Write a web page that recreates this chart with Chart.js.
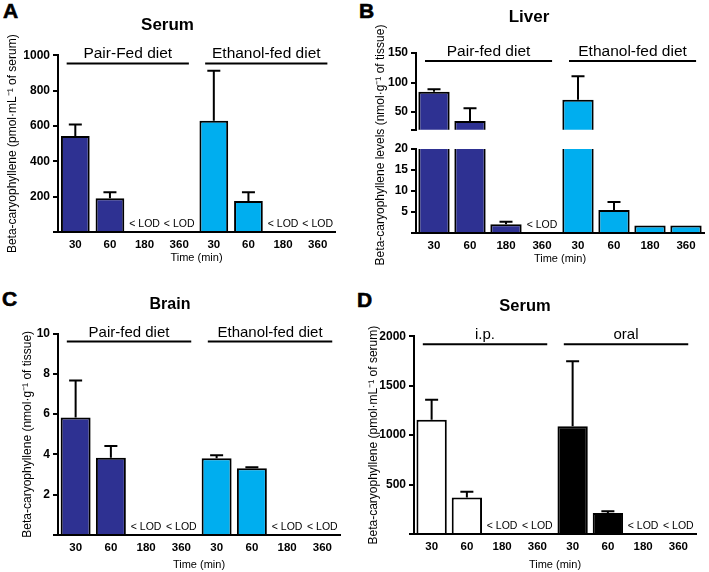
<!DOCTYPE html>
<html lang="en">
<head>
<meta charset="UTF-8">
<title>Beta-caryophyllene levels</title>
<script src="https://cdn.jsdelivr.net/npm/chart.js"></script>
<style>
  body { margin: 0; background: #fff; }
  #fig { position: relative; width: 709px; height: 572px; overflow: hidden;
         font-family: "Liberation Sans", Arial, sans-serif; }
  #fig canvas { position: absolute; }
  .letter { position: absolute; font-size: 21px; line-height: 20px; font-weight: bold;
            -webkit-text-stroke: 0.6px #000; }
</style>
</head>
<body>
<div id="fig">
  <div class="letter" style="left:3px;top:1px">A</div>
  <div class="letter" style="left:359px;top:1px">B</div>
  <div class="letter" style="left:2px;top:289px">C</div>
  <div class="letter" style="left:357px;top:290px">D</div>

  <canvas id="cA" width="354" height="290" style="left:0;top:0"></canvas>
  <canvas id="cBlow" width="355" height="290" style="left:354px;top:0"></canvas>
  <canvas id="cBhigh" width="355" height="140" style="left:354px;top:0"></canvas>
  <canvas id="cC" width="354" height="282" style="left:0;top:290px"></canvas>
  <canvas id="cD" width="355" height="282" style="left:354px;top:290px"></canvas>
</div>

<script>
// ---- data (mean, upper SD arm; null = below limit of detection) ----
const times = ['30', '60', '180', '360', '30', '60', '180', '360'];
const serumGroups = ['Pair-Fed diet', 'Ethanol-fed diet'];
const tissueGroups = ['Pair-fed diet', 'Ethanol-fed diet'];
const routeGroups = ['i.p.', 'oral'];

// A: serum, pmol/mL
const serumMean = [543, 191, null, null, 630, 176, null, null];
const serumSD   = [66, 34, null, null, 283, 49, null, null];
const serumTicks = [200, 400, 600, 800, 1000];

// B: liver, nmol/g (broken axis at 20)
const liverMean = [84.6, 34.7, 2.1, null, 70.8, 5.5, 1.8, 1.8];
const liverSD   = [4.1, 21.9, 0.6, null, 39.8, 1.9, 0, 0];
const liverTicksHigh = [50, 100, 150];
const liverTicksLow  = [5, 10, 15, 20];
const liverBreak = 20;

// C: brain, nmol/g
const brainMean = [5.83, 3.83, null, null, 3.81, 3.31, null, null];
const brainSD   = [1.84, 0.59, null, null, 0.15, 0.05, null, null];
const brainTicks = [2, 4, 6, 8, 10];

// D: serum by route, pmol/mL
const routeMean = [1157, 370, null, null, 1089, 212, null, null];
const routeSD   = [202, 58, null, null, 658, 17, null, null];
const routeTicks = [500, 1000, 1500, 2000];

// ---- styling ----
const FONT = '"Liberation Sans", Arial, sans-serif';
const NAVY = '#2e3192', CYAN = '#00aeef';
Chart.defaults.font.family = FONT;
Chart.defaults.color = '#000';
Chart.defaults.animation = false;

const dietColors = times.map((t, i) => i < times.length / 2 ? NAVY : CYAN);
const routeColors = times.map((t, i) => i < times.length / 2 ? '#fff' : '#000');

// extra drawing per canvas: error bars, group lines, < LOD, split y title
const extras = {};

const deco = {
  id: 'deco',
  afterDatasetsDraw(chart) {
    const e = extras[chart.canvas.id];
    if (!e) return;
    const {ctx, chartArea: a, scales: {x, y}} = chart;
    const step = x.getPixelForValue(1) - x.getPixelForValue(0);
    ctx.save();
    ctx.strokeStyle = '#000';
    ctx.fillStyle = '#000';
    ctx.lineWidth = 2;

    e.mean.forEach((m, i) => {
      const sd = e.sd[i];
      if (m == null || !sd || m < y.min || m > y.max) return;
      const cx = x.getPixelForValue(i);
      const y0 = y.getPixelForValue(m), y1 = y.getPixelForValue(m + sd);
      ctx.beginPath();
      ctx.moveTo(cx, y0); ctx.lineTo(cx, y1);
      ctx.moveTo(cx - 6.5, y1); ctx.lineTo(cx + 6.5, y1);
      ctx.stroke();
    });

    ctx.textAlign = 'center';
    ctx.textBaseline = 'alphabetic';
    if (e.lod) {
      ctx.font = '10.5px ' + FONT;
      e.mean.forEach((m, i) => {
        if (m == null) ctx.fillText('< LOD', x.getPixelForValue(i), a.bottom - 5);
      });
    }

    if (e.groups) {
      const n = times.length / e.groups.length;
      ctx.font = e.groupSize + 'px ' + FONT;
      e.groups.forEach((g, k) => {
        const x0 = x.getPixelForValue(k * n) - 0.25 * step;
        const x1 = x.getPixelForValue(k * n + n - 1) + 0.28 * step;
        const ly = a.top + 8;
        ctx.beginPath(); ctx.moveTo(x0, ly); ctx.lineTo(x1, ly); ctx.stroke();
        ctx.fillText(g, (x0 + x1) / 2, ly - 5);
      });
    }

    if (e.yTitle) {
      ctx.font = '12px ' + FONT;
      ctx.textBaseline = 'middle';
      ctx.translate(e.yTitle.x, e.yTitle.y);
      ctx.rotate(-Math.PI / 2);
      ctx.fillText(e.yTitle.text, 0, 0);
    }
    ctx.restore();
  }
};
Chart.register(deco);

function yAxis(ticks, min, width, title, titlePad) {
  return {
    min: min,
    max: ticks[ticks.length - 1],
    afterFit: s => { s.width = width; },
    border: { color: '#000', width: 2 },
    grid: { drawOnChartArea: false, tickLength: 5, lineWidth: 2, tickWidth: 2, tickColor: '#000' },
    ticks: {
      stepSize: ticks[1] - ticks[0],
      padding: 3,
      font: { size: 12, weight: 'bold' },
      callback: v => ticks.includes(v) ? v : ''
    },
    title: title ? { display: true, text: title, font: { size: 12 }, padding: { top: titlePad, bottom: 0 } }
                 : { display: false }
  };
}

function xAxis(height, titleBottom) {
  return {
    afterFit: s => { s.height = height; },
    border: { color: '#000', width: 2 },
    grid: { display: false, drawTicks: false },
    ticks: { padding: 6, maxRotation: 0, autoSkip: false, font: { size: 11.5, weight: 'bold' } },
    title: { display: true, text: 'Time (min)', font: { size: 11 }, padding: { top: 0, bottom: titleBottom } }
  };
}

function barChart(id, mean, colors, barPct, scales, title, padding) {
  return new Chart(document.getElementById(id), {
    type: 'bar',
    data: {
      labels: times,
      datasets: [{
        data: mean,
        backgroundColor: colors,
        borderColor: '#000',
        borderWidth: 2,
        barPercentage: barPct,
        categoryPercentage: 1
      }]
    },
    options: {
      responsive: false,
      layout: { padding: padding },
      plugins: {
        legend: { display: false },
        tooltip: { enabled: false },
        title: title
      },
      scales: scales
    }
  });
}

function chartTitle(text, size, top, bottom) {
  return { display: true, text: text, color: '#000', font: { size: size, weight: 'bold' },
           padding: { top: top, bottom: bottom } };
}

// A: serum
extras.cA = { mean: serumMean, sd: serumSD, lod: true, groups: serumGroups, groupSize: 15.5 };
barChart('cA', serumMean, dietColors, 0.83, {
  x: xAxis(58, 25),
  y: yAxis(serumTicks, 0, 58, 'Beta-caryophyllene (pmol\u00b7mL\u207b\u00b9 of serum)', 5)
}, chartTitle('Serum', 17, 15, 20), { left: 0, right: 19, top: 0, bottom: 0 });

// B: liver, lower part of the broken axis
extras.cBlow = { mean: liverMean, sd: liverSD, lod: true,
  yTitle: { text: 'Beta-caryophyllene levels (nmol\u00b7g\u207b\u00b9 of tissue)', x: 27, y: 145 } };
barChart('cBlow', liverMean, dietColors, 0.87, {
  x: xAxis(57, 24.5),
  y: yAxis(liverTicksLow, 0, 62, null, 0)
}, { display: false }, { left: 0, right: 5, top: 149, bottom: 0 });

// B: liver, upper part
extras.cBhigh = { mean: liverMean, sd: liverSD, lod: false, groups: tissueGroups, groupSize: 15.5 };
barChart('cBhigh', liverMean, dietColors, 0.87, {
  x: { display: false },
  y: yAxis(liverTicksHigh, liverBreak, 62, null, 0)
}, chartTitle('Liver', 17, 7, 25.6), { left: 0, right: 5, top: 0, bottom: 3 });

// C: brain
extras.cC = { mean: brainMean, sd: brainSD, lod: true, groups: tissueGroups, groupSize: 15 };
barChart('cC', brainMean, dietColors, 0.85, {
  x: xAxis(37, 0.5),
  y: yAxis(brainTicks, 0, 58, 'Beta-caryophyllene (nmol\u00b7g\u207b\u00b9 of tissue)', 20)
}, chartTitle('Brain', 16, 5, 19.4), { left: 0, right: 14, top: 0, bottom: 0 });

// D: serum, i.p. vs oral
extras.cD = { mean: routeMean, sd: routeSD, lod: true, groups: routeGroups, groupSize: 15 };
barChart('cD', routeMean, routeColors, 0.86, {
  x: xAxis(38, 0.5),
  y: yAxis(routeTicks, 0, 60, 'Beta-caryophyllene (pmol\u00b7mL\u207b\u00b9 of serum)', 12)
}, chartTitle('Serum', 16.5, 6.5, 20), { left: 0, right: 13, top: 0, bottom: 0 });
</script>
</body>
</html>
